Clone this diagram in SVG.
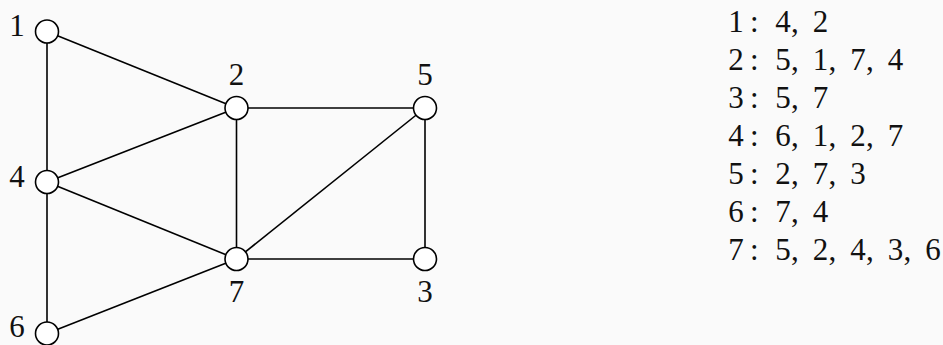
<svg xmlns="http://www.w3.org/2000/svg" width="943" height="345" viewBox="0 0 943 345">
<style>
.e{stroke:#000;stroke-width:1.6;fill:none}
.n{fill:#fff;stroke:#000;stroke-width:1.6}
text{font-family:'Liberation Serif','Times New Roman','DejaVu Serif',serif;font-size:31px;fill:#111}
.m{text-anchor:middle}
</style>
<rect width="943" height="345" fill="#fafafa"/>
<g id="edges">
<line class="e" x1="47" y1="31.5" x2="47" y2="182"/>
<line class="e" x1="47" y1="31.5" x2="236.5" y2="108"/>
<line class="e" x1="47" y1="182" x2="236.5" y2="108"/>
<line class="e" x1="236.5" y1="108" x2="425" y2="108"/>
<line class="e" x1="236.5" y1="108" x2="236.5" y2="259"/>
<line class="e" x1="47" y1="182" x2="236.5" y2="259"/>
<line class="e" x1="47" y1="182" x2="47" y2="333.5"/>
<line class="e" x1="47" y1="333.5" x2="236.5" y2="259"/>
<line class="e" x1="425" y1="108" x2="236.5" y2="259"/>
<line class="e" x1="425" y1="108" x2="425" y2="259"/>
<line class="e" x1="236.5" y1="259" x2="425" y2="259"/>
</g>
<g id="node1"><circle class="n" cx="47" cy="31.5" r="11.5"/><text class="m" x="17" y="36" font-family="Liberation Serif">1</text></g>
<g id="node2"><circle class="n" cx="236.5" cy="108" r="11.5"/><text class="m" x="236.5" y="85">2</text></g>
<g id="node5"><circle class="n" cx="425" cy="108" r="11.5"/><text class="m" x="425" y="85">5</text></g>
<g id="node4"><circle class="n" cx="47" cy="182" r="11.5"/><text class="m" x="17" y="186.5">4</text></g>
<g id="node7"><circle class="n" cx="236.5" cy="259" r="11.5"/><text class="m" x="236.5" y="302">7</text></g>
<g id="node3"><circle class="n" cx="425" cy="259" r="11.5"/><text class="m" x="425" y="302">3</text></g>
<g id="node6"><circle class="n" cx="47" cy="333.5" r="11.5"/><text class="m" x="17" y="337">6</text></g>
<g id="adjacency">
<text y="32"><tspan class="m" x="736">1</tspan><tspan x="750">:</tspan><tspan class="m" x="783">4</tspan><tspan x="791">,</tspan><tspan class="m" x="820.5">2</tspan></text>
<text y="70"><tspan class="m" x="736">2</tspan><tspan x="750">:</tspan><tspan class="m" x="783">5</tspan><tspan x="791">,</tspan><tspan class="m" x="820.5">1</tspan><tspan x="828.5">,</tspan><tspan class="m" x="858">7</tspan><tspan x="866">,</tspan><tspan class="m" x="895.5">4</tspan></text>
<text y="108"><tspan class="m" x="736">3</tspan><tspan x="750">:</tspan><tspan class="m" x="783">5</tspan><tspan x="791">,</tspan><tspan class="m" x="820.5">7</tspan></text>
<text y="146"><tspan class="m" x="736">4</tspan><tspan x="750">:</tspan><tspan class="m" x="783">6</tspan><tspan x="791">,</tspan><tspan class="m" x="820.5">1</tspan><tspan x="828.5">,</tspan><tspan class="m" x="858">2</tspan><tspan x="866">,</tspan><tspan class="m" x="895.5">7</tspan></text>
<text y="184"><tspan class="m" x="736">5</tspan><tspan x="750">:</tspan><tspan class="m" x="783">2</tspan><tspan x="791">,</tspan><tspan class="m" x="820.5">7</tspan><tspan x="828.5">,</tspan><tspan class="m" x="858">3</tspan></text>
<text y="222"><tspan class="m" x="736">6</tspan><tspan x="750">:</tspan><tspan class="m" x="783">7</tspan><tspan x="791">,</tspan><tspan class="m" x="820.5">4</tspan></text>
<text y="260"><tspan class="m" x="736">7</tspan><tspan x="750">:</tspan><tspan class="m" x="783">5</tspan><tspan x="791">,</tspan><tspan class="m" x="820.5">2</tspan><tspan x="828.5">,</tspan><tspan class="m" x="858">4</tspan><tspan x="866">,</tspan><tspan class="m" x="895.5">3</tspan><tspan x="903.5">,</tspan><tspan class="m" x="933">6</tspan></text>
</g>
</svg>
